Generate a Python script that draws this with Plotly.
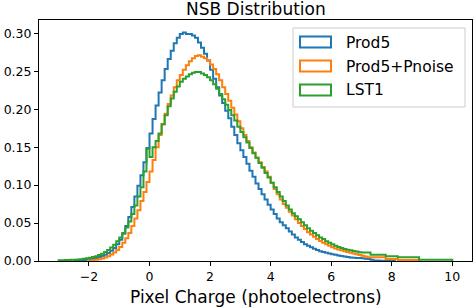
import numpy as np
import plotly.graph_objects as go

# ---- data -------------------------------------------------------------
TITLE = "NSB Distribution"
X_LABEL = "Pixel Charge (photoelectrons)"
SERIES_NAMES = ["Prod5", "Prod5+Pnoise", "LST1"]
BIN_START = -3.0
BIN_WIDTH = 0.1
X_TICKS = [-2, 0, 2, 4, 6, 8, 10]
Y_TICKS = [0.00, 0.05, 0.10, 0.15, 0.20, 0.25, 0.30]

prod5 = [
    0, 0, 0, 0, 0,
    0.0005, 0.0007, 0.001, 0.0014, 0.0019, 0.0025,
    0.0032, 0.0041, 0.0052, 0.0066, 0.0083, 0.0105, 0.0135, 0.017, 0.022, 0.028,
    0.036, 0.046, 0.058, 0.071, 0.085, 0.099, 0.113, 0.130, 0.149, 0.168,
    0.187, 0.205, 0.222, 0.238, 0.253, 0.266, 0.277, 0.287, 0.294, 0.299,
    0.301, 0.299, 0.299, 0.297, 0.294, 0.288, 0.281, 0.273, 0.264, 0.252,
    0.240, 0.229, 0.218, 0.208, 0.198, 0.188, 0.177, 0.166, 0.155, 0.146,
    0.137, 0.128, 0.119, 0.111, 0.102, 0.095, 0.088, 0.081, 0.074, 0.068,
    0.062, 0.056, 0.051, 0.047, 0.043, 0.039, 0.035, 0.031, 0.028, 0.025,
    0.022, 0.020, 0.018, 0.016, 0.0145, 0.013, 0.012, 0.011, 0.010, 0.009,
    0.0082, 0.0074, 0.0067, 0.006, 0.0053, 0.0047, 0.0044, 0.0041, 0.0038, 0.0035,
    0.003, 0.0025, 0.0015, 0.0008, 0.0005, 0.0004, 0.0003, 0.0003, 0.0002, 0.0002,
    0, 0, 0, 0, 0, 0, 0, 0, 0, 0, 0, 0, 0, 0, 0, 0, 0, 0, 0,
]

prod5_pnoise = [
    0, 0, 0, 0, 0, 0, 0, 0, 0, 0,
    0.0005, 0.0010, 0.0015, 0.0022, 0.0032, 0.0045, 0.0062, 0.0085, 0.0112, 0.0145,
    0.0185, 0.024, 0.030, 0.037, 0.046, 0.056, 0.067, 0.079, 0.091, 0.104,
    0.118, 0.133, 0.150, 0.166, 0.180, 0.194, 0.207, 0.218, 0.229, 0.238,
    0.245, 0.252, 0.258, 0.263, 0.267, 0.270, 0.271, 0.269, 0.267, 0.264,
    0.259, 0.253, 0.246, 0.238, 0.229, 0.220, 0.211, 0.202, 0.193, 0.184,
    0.175, 0.166, 0.158, 0.150, 0.143, 0.136, 0.130, 0.124, 0.118, 0.111,
    0.103, 0.095, 0.088, 0.081, 0.075, 0.070, 0.065, 0.060, 0.055, 0.050,
    0.046, 0.042, 0.038, 0.035, 0.032, 0.029, 0.0265, 0.024, 0.022, 0.020,
    0.018, 0.0165, 0.015, 0.014, 0.013, 0.012, 0.011, 0.010, 0.009, 0.008,
    0.007, 0.006, 0.005, 0.0048, 0.0048, 0.0048, 0.0048, 0.0048, 0.0026, 0.0026,
    0.0026, 0.0026, 0.0013, 0.0013, 0.0013, 0.0013, 0.0013, 0.0013, 0.0013, 0,
    0, 0, 0, 0, 0, 0, 0, 0, 0, 0,
]

lst1 = [
    0.0010, 0.0011, 0.0012, 0.0013, 0.0015, 0.0017, 0.0020, 0.0024, 0.0029, 0.0035,
    0.0043, 0.0052, 0.0064, 0.0078, 0.0095, 0.0118, 0.0145, 0.0178, 0.0215, 0.026,
    0.031, 0.037, 0.044, 0.052, 0.062, 0.073, 0.085, 0.097, 0.118, 0.148,
    0.137, 0.150, 0.158, 0.168, 0.180, 0.192, 0.204, 0.214, 0.223, 0.230,
    0.236, 0.240, 0.243, 0.246, 0.248, 0.249, 0.249, 0.247, 0.245, 0.242,
    0.238, 0.233, 0.227, 0.220, 0.213, 0.206, 0.199, 0.192, 0.185, 0.177,
    0.170, 0.163, 0.156, 0.149, 0.142, 0.136, 0.129, 0.123, 0.116, 0.110,
    0.103, 0.097, 0.091, 0.085, 0.079, 0.073, 0.068, 0.063, 0.059, 0.055,
    0.051, 0.047, 0.043, 0.040, 0.037, 0.034, 0.031, 0.029, 0.026, 0.024,
    0.022, 0.020, 0.0185, 0.017, 0.0158, 0.0148, 0.0140, 0.0132, 0.0124, 0.0116,
    0.0113, 0.0113, 0.0113, 0.0083, 0.0083, 0.0083, 0.0083, 0.0083, 0.0061, 0.0061,
    0.0061, 0.0061, 0.0048, 0.0048, 0.0048, 0.0048, 0.0048, 0.0048, 0.0048, 0.0017,
    0.0017, 0.0017, 0.0017, 0.0017, 0.0017, 0.0017, 0.0017, 0.0017, 0.0017, 0.0017,
]

COLORS = ["#1f77b4", "#ff7f0e", "#2ca02c"]

# ---- layout geometry (pixels) -----------------------------------------
W, H = 474, 308
PL, PR, PT, PB = 39, 472, 20, 261   # plot area edges in pixels
FONT = "DejaVu Sans"


def px_x(px):
    return (px - PL) / (PR - PL)


def px_y(py):
    return (PB - py) / (PB - PT)


fig = go.Figure()

series = [prod5, prod5_pnoise, lst1]
for name, vals, col in zip(SERIES_NAMES, series, COLORS):
    v = np.asarray(vals, dtype=float)
    edges = BIN_START + BIN_WIDTH * np.arange(len(v) + 1)
    nz = np.nonzero(v)[0]
    a, b = nz[0], nz[-1]
    xs = np.concatenate([[edges[a]], edges[a:b + 1], [edges[b + 1]], [edges[b + 1]]])
    ys = np.concatenate([[0.0], v[a:b + 1], [v[b]], [0.0]])
    fig.add_trace(go.Scatter(
        x=xs, y=ys, mode="lines", name=name,
        line=dict(color=col, width=2, shape="hv"),
        showlegend=False, hoverinfo="skip",
    ))

# legend drawn as outlined rectangles + text (matplotlib-style patch handles)
shapes = [dict(
    type="rect", xref="paper", yref="paper",
    x0=px_x(293), x1=px_x(465), y0=px_y(107), y1=px_y(28),
    line=dict(color="#cccccc", width=1), fillcolor="rgba(255,255,255,0.8)",
    layer="above",
)]
annotations = []
row_centers = [42.0, 66.0, 90.0]
for name, col, cy in zip(SERIES_NAMES, COLORS, row_centers):
    shapes.append(dict(
        type="rect", xref="paper", yref="paper",
        x0=px_x(300), x1=px_x(331), y0=px_y(cy + 5.5), y1=px_y(cy - 5.5),
        line=dict(color=col, width=2), fillcolor="rgba(0,0,0,0)", layer="above",
    ))
    annotations.append(dict(
        text=name, xref="paper", yref="paper", x=px_x(344), y=px_y(cy + 0.5),
        xanchor="left", yanchor="middle", showarrow=False,
        font=dict(family=FONT, size=15.5, color="#000000"),
    ))

annotations.append(dict(
    text=X_LABEL, xref="paper", yref="paper", x=0.5, y=px_y(297),
    xanchor="center", yanchor="middle", showarrow=False,
    font=dict(family=FONT, size=17, color="#000000"),
))
annotations.append(dict(
    text=TITLE, xref="paper", yref="paper", x=0.5, y=px_y(9),
    xanchor="center", yanchor="middle", showarrow=False,
    font=dict(family=FONT, size=17, color="#000000"),
))

fig.update_layout(
    width=W, height=H,
    margin=dict(l=PL, r=W - PR, t=PT, b=H - PB, pad=0),
    paper_bgcolor="white", plot_bgcolor="white",
    font=dict(family=FONT, size=12.5, color="#000000"),
    shapes=shapes, annotations=annotations,
    showlegend=False,
)
fig.update_xaxes(
    range=[-3.65, 10.65], tickvals=X_TICKS,
    showgrid=False, zeroline=False,
    showline=True, linecolor="#000000", linewidth=1, mirror=True,
    ticks="outside", ticklen=4, tickwidth=1, tickcolor="#000000",
    tickfont=dict(family=FONT, size=12.5, color="#000000"),
)
fig.update_yaxes(
    range=[0, 0.3175], tickvals=Y_TICKS, tickformat=".2f",
    showgrid=False, zeroline=False,
    showline=True, linecolor="#000000", linewidth=1, mirror=True,
    ticks="outside", ticklen=4, tickwidth=1, tickcolor="#000000",
    tickfont=dict(family=FONT, size=12.5, color="#000000"),
)

fig.write_html(
    "out.html",
    config={"displayModeBar": False, "staticPlot": True},
    post_script="document.body.style.margin='0';document.body.style.overflow='hidden';",
)
